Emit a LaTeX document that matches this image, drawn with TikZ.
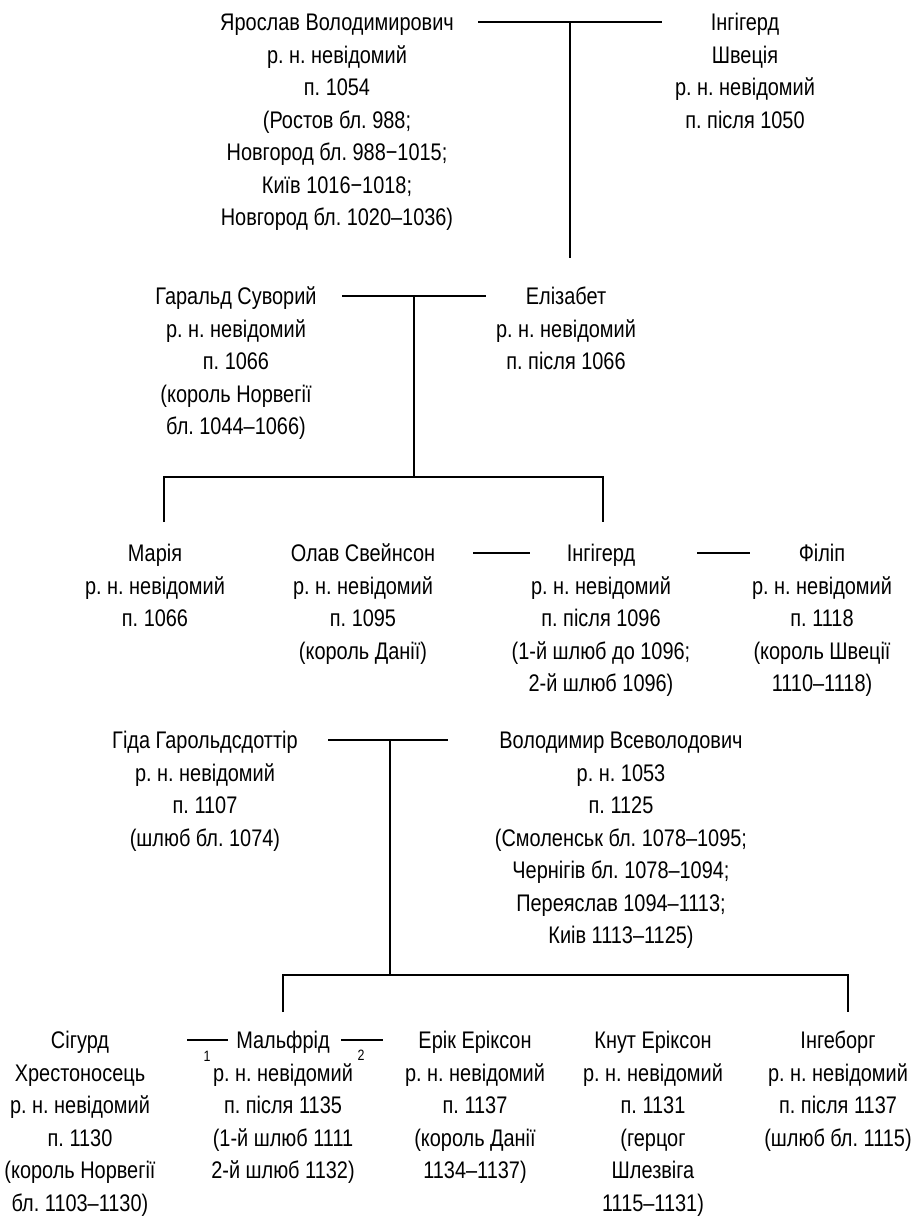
\documentclass[tikz,border=0pt]{standalone}
\usepackage{fontspec}
\setmainfont{Liberation Sans}[FakeStretch=0.83]
\begin{document}
\frenchspacing
\begin{tikzpicture}[x=1pt,y=-1pt,
  person/.style={align=center, inner sep=0pt, anchor=north, font=\fontsize{24}{32.5}\selectfont\frenchspacing},
  tie/.style={line width=2.5pt},
  num/.style={font=\fontsize{15}{16}\selectfont, inner sep=0pt}]
\useasboundingbox (0,0) rectangle (913,1216);
% row 1
\node[person] (yar) at (337,7.8) {\strut Ярослав Володимирович\\р. н. невідомий\\п. 1054\\(Ростов бл. 988;\\Новгород бл. 988−1015;\\Київ 1016−1018;\\Новгород бл. 1020–1036)};
\node[person] (ing1) at (745,7.8) {\strut Інгігерд\\Швеція\\р. н. невідомий\\п. після 1050};
\coordinate (m1a) at (478,22); \coordinate (m1b) at (662,22);
\coordinate (m1c) at (570,22); \coordinate (m1d) at (570,258);
\draw[tie] (m1a) -- (m1b);
\draw[tie] (m1c) -- (m1d);
% row 2
\node[person] (har) at (236,282) {\strut Гаральд Суворий\\р. н. невідомий\\п. 1066\\(король Норвегії\\бл. 1044–1066)};
\node[person] (eliz) at (566,282) {\strut Елізабет\\р. н. невідомий\\п. після 1066};
\coordinate (m2a) at (342,296); \coordinate (m2b) at (486,296);
\coordinate (m2c) at (414,296); \coordinate (b2) at (414,477);
\coordinate (b2l) at (164,477); \coordinate (b2r) at (603,477);
\coordinate (d2l) at (164,522); \coordinate (d2r) at (603,522);
\draw[tie] (m2a) -- (m2b);
\draw[tie] (m2c) -- (b2);
\draw[tie] (d2l) -- (b2l) -- (b2r) -- (d2r);
% row 3
\node[person] (maria) at (155,539) {\strut Марія\\р. н. невідомий\\п. 1066};
\node[person] (olav) at (363,539) {\strut Олав Свейнсон\\р. н. невідомий\\п. 1095\\(король Данії)};
\node[person] (ing2) at (601,539) {\strut Інгігерд\\р. н. невідомий\\п. після 1096\\(1-й шлюб до 1096;\\2-й шлюб 1096)};
\node[person] (filip) at (822,539) {\strut Філіп\\р. н. невідомий\\п. 1118\\(король Швеції\\1110–1118)};
\coordinate (m3a) at (473,553); \coordinate (m3b) at (530,553);
\coordinate (m3c) at (697,553); \coordinate (m3d) at (750,553);
\draw[tie] (m3a) -- (m3b);
\draw[tie] (m3c) -- (m3d);
% row 4
\node[person] (gida) at (205,726) {\strut Гіда Гарольдсдоттір\\р. н. невідомий\\п. 1107\\(шлюб бл. 1074)};
\node[person] (vol) at (621,726) {\strut Володимир Всеволодович\\р. н. 1053\\п. 1125\\(Смоленськ бл. 1078–1095;\\Чернігів бл. 1078–1094;\\Переяслав 1094–1113;\\Киів 1113–1125)};
\coordinate (m4a) at (328,740); \coordinate (m4b) at (448,740);
\coordinate (m4c) at (390,740); \coordinate (b4) at (390,975);
\coordinate (b4l) at (283,975); \coordinate (b4r) at (848,975);
\coordinate (d4l) at (283,1012); \coordinate (d4r) at (848,1012);
\draw[tie] (m4a) -- (m4b);
\draw[tie] (m4c) -- (b4);
\draw[tie] (d4l) -- (b4l) -- (b4r) -- (d4r);
% row 5
\node[person] (sig) at (80,1026) {\strut Сігурд\\Хрестоносець\\р. н. невідомий\\п. 1130\\(король Норвегії\\бл. 1103–1130)};
\node[person] (mal) at (283,1026) {\strut Мальфрід\\р. н. невідомий\\п. після 1135\\(1-й шлюб 1111\\2-й шлюб 1132)};
\node[person] (erik) at (475,1026) {\strut Ерік Еріксон\\р. н. невідомий\\п. 1137\\(король Данії\\1134–1137)};
\node[person] (knut) at (653,1026) {\strut Кнут Еріксон\\р. н. невідомий\\п. 1131\\(герцог\\Шлезвіга\\1115–1131)};
\node[person] (ingeb) at (838,1026) {\strut Інгеборг\\р. н. невідомий\\п. після 1137\\(шлюб бл. 1115)};
\coordinate (m5a) at (187,1040); \coordinate (m5b) at (228,1040);
\coordinate (m5c) at (341,1040); \coordinate (m5d) at (383,1040);
\draw[tie] (m5a) -- (m5b);
\draw[tie] (m5c) -- (m5d);
\node[num] (n1) at (207,1056) {1};
\node[num] (n2) at (361,1055) {2};
\end{tikzpicture}
\end{document}
